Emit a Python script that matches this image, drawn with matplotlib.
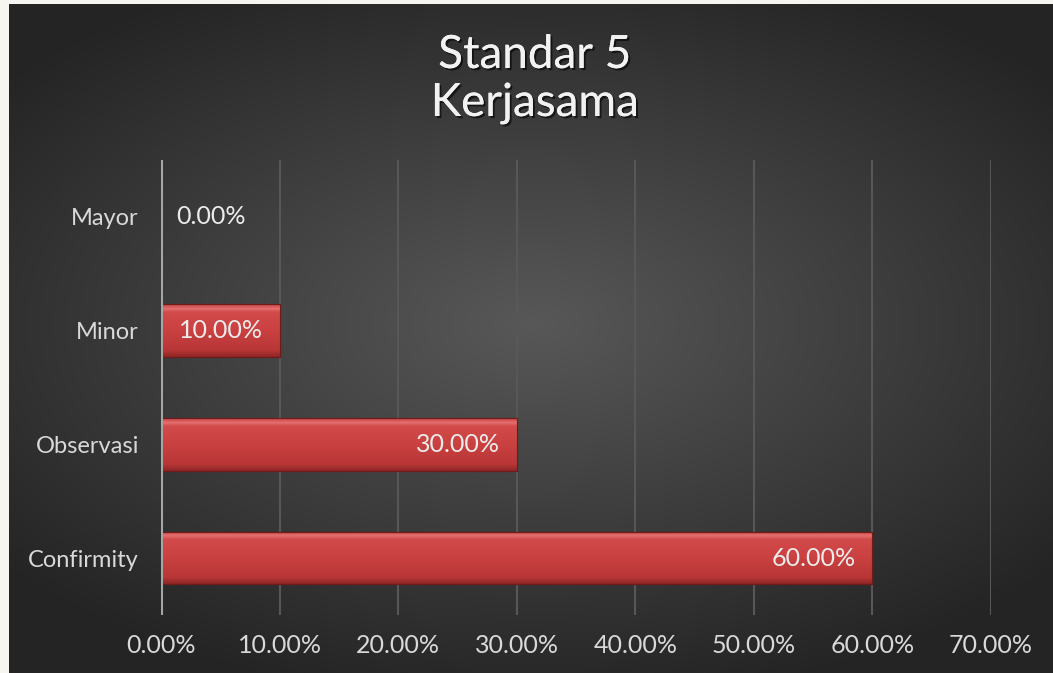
import numpy as np
import matplotlib
matplotlib.use("Agg")
import matplotlib.pyplot as plt
import matplotlib.patheffects as pe
from matplotlib.patches import Rectangle
from matplotlib.colors import LinearSegmentedColormap

# ---------------- data ----------------
categories = ["Confirmity", "Observasi", "Minor", "Mayor"]
values = [0.60, 0.30, 0.10, 0.00]
tick_values = [0.0, 0.1, 0.2, 0.3, 0.4, 0.5, 0.6, 0.7]
title_lines = ["Standar 5", "Kerjasama"]

plt.rcParams['font.family'] = ['Lato', 'DejaVu Sans']

W, H = 1053, 673
fig = plt.figure(figsize=(W / 100, H / 100), dpi=100)
fig.patch.set_facecolor("#f7f5f0")

# dark panel with radial gradient
px0, py0, px1, py1 = 9, 4, 1053, 673
bg = fig.add_axes([px0 / W, 1 - py1 / H, (px1 - px0) / W, (py1 - py0) / H])
bg.set_axis_off()
gx, gy = np.meshgrid(np.linspace(-1, 1, 400), np.linspace(-1, 1, 260))
r = np.sqrt((gx * 1.0) ** 2 + (gy * 1.15 + 0.05) ** 2)
r = np.clip(r, 0, 1.3) / 1.3
shade = 0.345 - 0.2 * r
img = np.dstack([shade, shade, shade])
bg.imshow(img, aspect="auto", extent=[0, 1, 0, 1], interpolation="bilinear")
bg.set_xlim(0, 1)
bg.set_ylim(0, 1)

# main axes
ax = fig.add_axes([161 / W, 1 - 615 / H, (991 - 161) / W, (615 - 160) / H])
ax.set_facecolor("none")
ax.set_xlim(0, 0.7)
ax.set_ylim(-0.5, 3.5)

ypos = np.arange(len(categories))
bar_h = 0.46
bars = ax.barh(ypos, values, height=bar_h, color="#c73e3e", edgecolor="#8a2222",
               linewidth=0.8, zorder=3)

# bevel-like gradient on each bar
grad = np.linspace(0, 1, 100).reshape(-1, 1)
cmap = LinearSegmentedColormap.from_list(
    "bevel", [(0.0, "#8f2626"), (0.12, "#b83636"), (0.55, "#cc4242"),
              (0.85, "#d24a4a"), (0.92, "#e57070"), (1.0, "#c44040")])
for b, v in zip(bars, values):
    if v <= 0:
        continue
    y0 = b.get_y()
    im = ax.imshow(grad, cmap=cmap, aspect="auto", origin="lower",
                   extent=[0, v, y0, y0 + bar_h], zorder=4)
    im.set_clip_path(b)
    ax.add_patch(Rectangle((0, y0), v, bar_h, fill=False, edgecolor="#6e1b1b",
                           linewidth=0.8, zorder=5))

# data labels
for y, v in zip(ypos, values):
    lab = f"{v * 100:.2f}%"
    if v > 0:
        ax.annotate(lab, (v, y), xytext=(-12, 0), textcoords="offset points",
                    ha="right", va="center", fontsize=18, color="#ececec", zorder=6)
    else:
        ax.annotate(lab, (0, y), xytext=(11, 0), textcoords="offset points",
                    ha="left", va="center", fontsize=18, color="#ececec", zorder=6)

# gridlines and axis
for t in tick_values[1:]:
    ax.axvline(t, color="#575757", linewidth=1.5, zorder=1)
ax.axvline(0, color="#a6a6a6", linewidth=2.2, zorder=6)

for s in ax.spines.values():
    s.set_visible(False)
ax.set_xticks(tick_values)
ax.set_xticklabels([f"{t * 100:.2f}%" for t in tick_values])
ax.set_yticks(ypos)
ax.set_yticklabels(categories)
ax.tick_params(axis="x", length=0, pad=14, labelsize=18, labelcolor="#d9d9d9")
ax.tick_params(axis="y", length=0, pad=16, labelsize=17, labelcolor="#d9d9d9")

# title
shadow = [pe.withSimplePatchShadow(offset=(1.5, -1.5), shadow_rgbFace="black", alpha=0.6),
          pe.Normal()]
for txt, yp in zip(title_lines, [55, 103]):
    fig.text(535 / W, 1 - yp / H, txt, ha="center", va="center",
             fontsize=33, color="#f2f2f2", path_effects=shadow)

fig.savefig("out.png", dpi=100, facecolor=fig.get_facecolor())
